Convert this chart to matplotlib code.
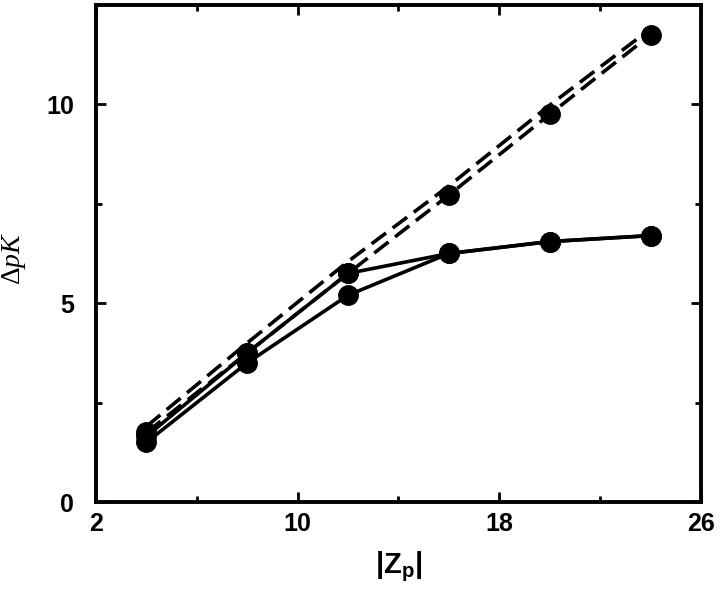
import matplotlib
matplotlib.use('Agg')
import matplotlib.pyplot as plt

plt.rcParams['font.family'] = ['Liberation Sans', 'DejaVu Sans']
plt.rcParams['mathtext.fontset'] = 'custom'
plt.rcParams['mathtext.rm'] = 'Liberation Serif'
plt.rcParams['mathtext.it'] = 'Liberation Serif:italic'
plt.rcParams['mathtext.bf'] = 'Liberation Sans:bold'

# |Zp| values and delta pK for the four curves
zp = [4, 8, 12, 16, 20, 24]
dash_upper = [1.9, 4.0, 6.05, 7.95, 9.98, 11.9]
dash_lower = [1.75, 3.75, 5.75, 7.72, 9.75, 11.75]
solid_upper = [1.65, 3.75, 5.75, 6.25, 6.55, 6.7]
solid_lower = [1.5, 3.5, 5.2, 6.25, 6.55, 6.7]

fig = plt.figure(figsize=(7.2, 5.92), dpi=100)
ax = fig.add_axes([0.1333, 0.152, 0.8403, 0.8396])

ax.plot(zp, dash_upper, color='black', lw=2.6, ls=(0, (5, 2.3)))
ax.plot(zp, dash_lower, color='black', lw=2.6, ls=(0, (5, 2.3)),
        marker='o', ms=14)
ax.plot(zp, solid_upper, color='black', lw=2.6, marker='o', ms=14)
ax.plot(zp, solid_lower, color='black', lw=2.6, marker='o', ms=14)

ax.set_xlim(2, 26)
ax.set_ylim(0, 12.5)
ax.set_xticks([2, 10, 18, 26])
ax.set_xticks([6, 14, 22], minor=True)
ax.set_yticks([0, 5, 10])
ax.set_yticks([2.5, 7.5], minor=True)
ax.tick_params(which='both', direction='in', top=True, right=True, width=2,
               labelsize=18)
ax.tick_params(axis='x', pad=7)
ax.tick_params(axis='y', pad=16)
ax.tick_params(which='major', length=7)
ax.tick_params(which='minor', length=4)
for lab in ax.get_xticklabels() + ax.get_yticklabels():
    lab.set_fontweight('bold')
for s in ax.spines.values():
    s.set_linewidth(2.8)

ax.set_xlabel(r'|Z$_\mathbf{p}$|', fontsize=21, fontweight='bold', labelpad=10)
ax.set_ylabel(r'$\Delta pK$', fontsize=20)
ax.yaxis.set_label_coords(-0.112, 0.49)

fig.savefig('out.png', dpi=100)
